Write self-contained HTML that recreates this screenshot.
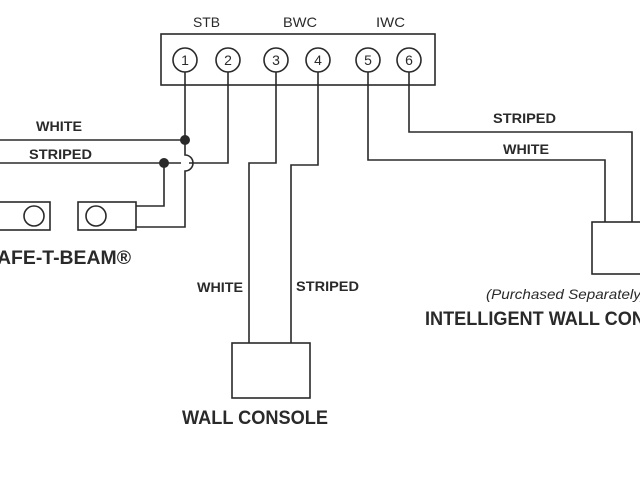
<!DOCTYPE html>
<html><head><meta charset="utf-8"><style>
html,body{margin:0;padding:0;background:#fff;}
svg{display:block}
text{font-family:"Liberation Sans",sans-serif;fill:#2a2a2a}
.b{font-weight:bold}
</style></head><body>
<svg width="640" height="480" viewBox="0 0 640 480" xmlns="http://www.w3.org/2000/svg">
<g fill="none" stroke="#2a2a2a" stroke-width="1.6">
<rect x="161" y="34" width="274" height="51"/>
<circle cx="185" cy="60" r="12"/>
<circle cx="228" cy="60" r="12"/>
<circle cx="276" cy="60" r="12"/>
<circle cx="318" cy="60" r="12"/>
<circle cx="368" cy="60" r="12"/>
<circle cx="409" cy="60" r="12"/>
<polyline points="0,140 185,140 185,72"/>
<path d="M185,140 L185,155 A8,8 0 0 1 185,171 L185,227 L136,227"/>
<polyline points="0,163 181,163"/>
<polyline points="189,163 228,163 228,72"/>
<polyline points="164,163 164,206 136,206"/>
<rect x="-5" y="202" width="55" height="28"/>
<circle cx="34" cy="216" r="10"/>
<rect x="78" y="202" width="58" height="28"/>
<circle cx="96" cy="216" r="10"/>
<polyline points="276,72 276,163 249,163 249,343"/>
<polyline points="318,72 318,165 291,165 291,343"/>
<rect x="232" y="343" width="78" height="55"/>
<polyline points="368,72 368,160 605,160 605,222"/>
<polyline points="409,72 409,132 632,132 632,222"/>
<rect x="592" y="222" width="60" height="52"/>
</g>
<circle cx="185" cy="140" r="5" fill="#2a2a2a"/>
<circle cx="164" cy="163" r="5" fill="#2a2a2a"/>
<g font-size="14" text-anchor="middle">
<text x="185" y="65">1</text><text x="228" y="65">2</text><text x="276" y="65">3</text>
<text x="318" y="65">4</text><text x="368" y="65">5</text><text x="409" y="65">6</text>
</g>
<text x="193" y="27" font-size="14" textLength="27" lengthAdjust="spacingAndGlyphs">STB</text>
<text x="283" y="27" font-size="14" textLength="34" lengthAdjust="spacingAndGlyphs">BWC</text>
<text x="376" y="27" font-size="14" textLength="29" lengthAdjust="spacingAndGlyphs">IWC</text>
<g class="b" font-size="14">
<text class="b" x="36" y="131" textLength="46" lengthAdjust="spacingAndGlyphs">WHITE</text>
<text class="b" x="29" y="159" textLength="63" lengthAdjust="spacingAndGlyphs">STRIPED</text>
<text class="b" x="493" y="123" textLength="63" lengthAdjust="spacingAndGlyphs">STRIPED</text>
<text class="b" x="503" y="154" textLength="46" lengthAdjust="spacingAndGlyphs">WHITE</text>
<text class="b" x="197" y="292" textLength="46" lengthAdjust="spacingAndGlyphs">WHITE</text>
<text class="b" x="296" y="291" textLength="63" lengthAdjust="spacingAndGlyphs">STRIPED</text>
</g>
<text class="b" x="-3" y="264" font-size="19" textLength="134" lengthAdjust="spacingAndGlyphs">AFE-T-BEAM®</text>
<text class="b" x="182" y="424" font-size="19" textLength="146" lengthAdjust="spacingAndGlyphs">WALL CONSOLE</text>
<text x="486" y="299" font-size="14" font-style="italic" textLength="160" lengthAdjust="spacingAndGlyphs">(Purchased Separately)</text>
<text class="b" x="425" y="325" font-size="19" textLength="232" lengthAdjust="spacingAndGlyphs">INTELLIGENT WALL CONS</text>
</svg>
</body></html>
